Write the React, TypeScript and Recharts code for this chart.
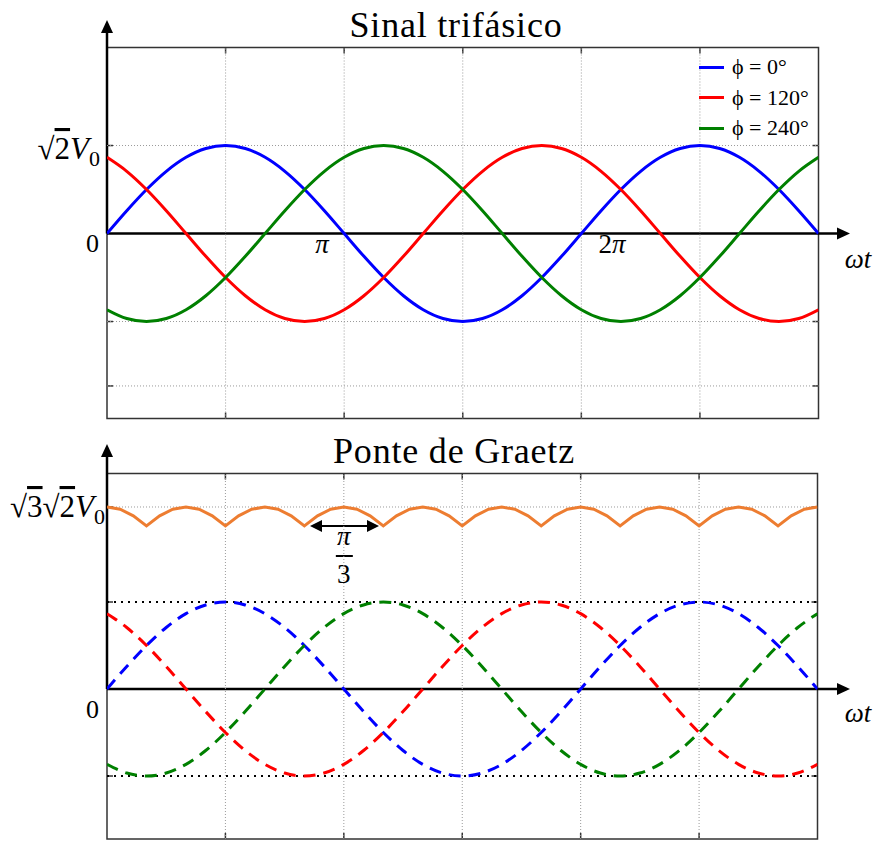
import { LineChart, Line, XAxis, YAxis, ReferenceLine } from 'recharts';

// phase angle in degrees, 0 .. 3π
const angles = [
  0, 15, 30, 45, 60, 75, 90, 105, 120, 135, 150, 165, 180, 195, 210, 225, 240, 255,
  270, 285, 300, 315, 330, 345, 360, 375, 390, 405, 420, 435, 450, 465, 480, 495, 510, 525, 540,
];

// phase voltages in units of √2·V0
const phaseA = [
  0, 0.259, 0.5, 0.707, 0.866, 0.966, 1, 0.966, 0.866, 0.707, 0.5, 0.259, 0,
  -0.259, -0.5, -0.707, -0.866, -0.966, -1, -0.966, -0.866, -0.707, -0.5, -0.259, 0,
  0.259, 0.5, 0.707, 0.866, 0.966, 1, 0.966, 0.866, 0.707, 0.5, 0.259, 0,
];
const phaseB = [
  0.866, 0.707, 0.5, 0.259, 0, -0.259, -0.5, -0.707, -0.866, -0.966, -1, -0.966, -0.866,
  -0.707, -0.5, -0.259, 0, 0.259, 0.5, 0.707, 0.866, 0.966, 1, 0.966, 0.866,
  0.707, 0.5, 0.259, 0, -0.259, -0.5, -0.707, -0.866, -0.966, -1, -0.966, -0.866,
];
const phaseC = [
  -0.866, -0.966, -1, -0.966, -0.866, -0.707, -0.5, -0.259, 0, 0.259, 0.5, 0.707, 0.866,
  0.966, 1, 0.966, 0.866, 0.707, 0.5, 0.259, 0, -0.259, -0.5, -0.707, -0.866,
  -0.966, -1, -0.966, -0.866, -0.707, -0.5, -0.259, 0, 0.259, 0.5, 0.707, 0.866,
];

// rectified bridge output, sampled every 10°
const rippleAngles = [
  0, 10, 20, 30, 40, 50, 60, 70, 80, 90, 100, 110, 120, 130, 140, 150, 160, 170, 180,
  190, 200, 210, 220, 230, 240, 250, 260, 270, 280, 290, 300, 310, 320, 330, 340, 350, 360,
  370, 380, 390, 400, 410, 420, 430, 440, 450, 460, 470, 480, 490, 500, 510, 520, 530, 540,
];
const rippleLevel = [
  2.092, 2.066, 1.99, 1.874, 1.99, 2.066,
  2.092, 2.066, 1.99, 1.874, 1.99, 2.066,
  2.092, 2.066, 1.99, 1.874, 1.99, 2.066,
  2.092, 2.066, 1.99, 1.874, 1.99, 2.066,
  2.092, 2.066, 1.99, 1.874, 1.99, 2.066,
  2.092, 2.066, 1.99, 1.874, 1.99, 2.066,
  2.092, 2.066, 1.99, 1.874, 1.99, 2.066,
  2.092, 2.066, 1.99, 1.874, 1.99, 2.066,
  2.092, 2.066, 1.99, 1.874, 1.99, 2.066,
  2.092,
];

const phaseLabels = ['ϕ = 0°', 'ϕ = 120°', 'ϕ = 240°'];
const gridAngles = [90, 180, 270, 360, 450];
const topGridLevels = [1, -1, -1.732];
const bottomPeakLevel = 2.092;
const bottomDottedLevels = [1, -1];

const phaseRows = angles.map((x, i) => ({ x, a: phaseA[i], b: phaseB[i], c: phaseC[i] }));
const rippleRows = rippleAngles.map((x, i) => ({ x, v: rippleLevel[i] }));

const PHASES = [
  { key: 'a', color: '#0000ff', label: phaseLabels[0] },
  { key: 'b', color: '#ff0000', label: phaseLabels[1] },
  { key: 'c', color: '#008000', label: phaseLabels[2] },
];
const RIPPLE_COLOR = '#ed7d31';
const GRID = '#9a9a9a';
const serif = '"Liberation Serif", "Times New Roman", serif';

// plot boxes in page pixels
const TOP_BOX = { left: 107, top: 47.5, right: 818.5, bottom: 418.5 };
const BOT_BOX = { left: 107, top: 473.5, right: 817.5, bottom: 839 };
const TOP_DOMAIN: [number, number] = [-2.102, 2.114];
const BOT_DOMAIN: [number, number] = [-1.724, 2.477];
const TOP_H = 430;
const BOT_Y = 430;
const BOT_H = 411;
const X_MAX = 540;

type Box = typeof TOP_BOX;
const px = (b: Box, a: number) => b.left + (a / X_MAX) * (b.right - b.left);
const py = (b: Box, d: [number, number], v: number) =>
  b.top + ((d[1] - v) / (d[1] - d[0])) * (b.bottom - b.top);

function PhaseLegend() {
  return (
    <div
      style={{
        position: 'absolute',
        left: 699,
        top: 52,
        fontFamily: serif,
        fontSize: 22,
        lineHeight: '30.5px',
        color: '#000',
      }}
    >
      {PHASES.map(p => (
        <div key={p.key} style={{ display: 'flex', alignItems: 'center', whiteSpace: 'nowrap' }}>
          <span
            style={{ display: 'inline-block', width: 25, height: 3, background: p.color, marginRight: 8 }}
          />
          {p.label}
        </div>
      ))}
    </div>
  );
}

function FrameTicks({ box, domain, levels }: { box: Box; domain: [number, number]; levels: number[] }) {
  const t = 6;
  return (
    <g stroke="#333" strokeWidth={1.5}>
      {gridAngles.map(a => (
        <g key={a}>
          <line x1={px(box, a)} x2={px(box, a)} y1={box.top} y2={box.top + t} />
          <line x1={px(box, a)} x2={px(box, a)} y1={box.bottom} y2={box.bottom - t} />
        </g>
      ))}
      {levels.map(v => (
        <g key={v}>
          <line x1={box.left} x2={box.left + t} y1={py(box, domain, v)} y2={py(box, domain, v)} />
          <line x1={box.right} x2={box.right - t} y1={py(box, domain, v)} y2={py(box, domain, v)} />
        </g>
      ))}
    </g>
  );
}

function Decorations() {
  const z1 = py(TOP_BOX, TOP_DOMAIN, 0);
  const z2 = py(BOT_BOX, BOT_DOMAIN, 0);
  const cuspY = py(BOT_BOX, BOT_DOMAIN, 1.874);
  const a0 = 310;
  const a1 = 379;
  const mid = px(BOT_BOX, 180);
  return (
    <svg width={876} height={841} style={{ position: 'absolute', left: 0, top: 0 }}>
      {/* titles */}
      <text x={456} y={37} textAnchor="middle" fontFamily={serif} fontSize={36} letterSpacing={0.8}>
        Sinal trifásico
      </text>
      <text x={454} y={463} textAnchor="middle" fontFamily={serif} fontSize={36} letterSpacing={0.8}>
        Ponte de Graetz
      </text>

      {/* frames */}
      <rect
        x={TOP_BOX.left}
        y={TOP_BOX.top}
        width={TOP_BOX.right - TOP_BOX.left}
        height={TOP_BOX.bottom - TOP_BOX.top}
        fill="none"
        stroke="#333"
        strokeWidth={1.5}
      />
      <rect
        x={BOT_BOX.left}
        y={BOT_BOX.top}
        width={BOT_BOX.right - BOT_BOX.left}
        height={BOT_BOX.bottom - BOT_BOX.top}
        fill="none"
        stroke="#333"
        strokeWidth={1.5}
      />
      <FrameTicks box={TOP_BOX} domain={TOP_DOMAIN} levels={topGridLevels} />
      <FrameTicks box={BOT_BOX} domain={BOT_DOMAIN} levels={[bottomPeakLevel, ...bottomDottedLevels]} />

      {/* axes with arrows */}
      <g stroke="#000" strokeWidth={2.5}>
        <line x1={107} y1={z1} x2={107} y2={33} />
        <line x1={107} y1={z1} x2={837} y2={z1} />
        <line x1={107} y1={z2} x2={107} y2={457} />
        <line x1={107} y1={z2} x2={837} y2={z2} />
      </g>
      <g fill="#000">
        <polygon points={`107,20 101,33 113,33`} />
        <polygon points={`850,${z1} 837,${z1 - 6} 837,${z1 + 6}`} />
        <polygon points={`107,444 101,457 113,457`} />
        <polygon points={`850,${z2} 837,${z2 - 6} 837,${z2 + 6}`} />
      </g>

      {/* axis labels, top panel */}
      <text x={100} y={159} textAnchor="end" fontFamily={serif} fontSize={31}>
        √<tspan textDecoration="overline">2</tspan>
        <tspan fontStyle="italic">V</tspan>
        <tspan fontSize={22} dy={7}>0</tspan>
      </text>
      <text x={99} y={252} textAnchor="end" fontFamily={serif} fontSize={26}>0</text>
      <text x={322} y={253} textAnchor="middle" fontFamily={serif} fontSize={27} fontStyle="italic">π</text>
      <text x={612} y={253} textAnchor="middle" fontFamily={serif} fontSize={27} fontStyle="italic">
        <tspan fontStyle="normal">2</tspan>π
      </text>
      <text x={858} y={268} textAnchor="middle" fontFamily={serif} fontSize={27} fontStyle="italic">ωt</text>

      {/* axis labels, bottom panel */}
      <text x={105} y={517} textAnchor="end" fontFamily={serif} fontSize={31}>
        √<tspan textDecoration="overline">3</tspan>√<tspan textDecoration="overline">2</tspan>
        <tspan fontStyle="italic">V</tspan>
        <tspan fontSize={22} dy={7}>0</tspan>
      </text>
      <text x={99} y={718} textAnchor="end" fontFamily={serif} fontSize={26}>0</text>
      <text x={858} y={722} textAnchor="middle" fontFamily={serif} fontSize={27} fontStyle="italic">ωt</text>

      {/* ripple period marker */}
      <g stroke="#000" strokeWidth={2}>
        <line x1={a0 + 8} y1={cuspY} x2={a1 - 8} y2={cuspY} />
        <line x1={mid - 8} y1={556} x2={mid + 9} y2={556} />
      </g>
      <g fill="#000">
        <polygon points={`${a0},${cuspY} ${a0 + 12},${cuspY - 6} ${a0 + 12},${cuspY + 6}`} />
        <polygon points={`${a1},${cuspY} ${a1 - 12},${cuspY - 6} ${a1 - 12},${cuspY + 6}`} />
      </g>
      <text x={mid} y={545} textAnchor="middle" fontFamily={serif} fontSize={27} fontStyle="italic">π</text>
      <text x={mid} y={583} textAnchor="middle" fontFamily={serif} fontSize={27}>3</text>
    </svg>
  );
}

export default function App() {
  return (
    <div style={{ position: 'fixed', left: 0, top: 0, width: 876, height: 841, background: '#fff' }}>
      <Decorations />

      <div style={{ position: 'absolute', left: 0, top: 0 }}>
        <LineChart
          width={876}
          height={TOP_H}
          data={phaseRows}
          margin={{
            top: TOP_BOX.top,
            left: TOP_BOX.left,
            right: 876 - TOP_BOX.right,
            bottom: TOP_H - TOP_BOX.bottom,
          }}
        >
          <XAxis type="number" dataKey="x" domain={[0, X_MAX]} allowDataOverflow hide />
          <YAxis type="number" domain={TOP_DOMAIN} allowDataOverflow hide />
          {gridAngles.map(a => (
            <ReferenceLine key={`gx${a}`} x={a} stroke={GRID} strokeDasharray="1 2" />
          ))}
          {topGridLevels.map(v => (
            <ReferenceLine key={`gy${v}`} y={v} stroke={GRID} strokeDasharray="1 2" />
          ))}
          {PHASES.map(p => (
            <Line
              key={p.key}
              dataKey={p.key}
              name={p.label}
              type="monotone"
              stroke={p.color}
              strokeWidth={3}
              dot={false}
              activeDot={false}
              isAnimationActive={false}
            />
          ))}
        </LineChart>
      </div>
      <PhaseLegend />

      <div style={{ position: 'absolute', left: 0, top: BOT_Y }}>
        <LineChart
          width={876}
          height={BOT_H}
          data={phaseRows}
          margin={{
            top: BOT_BOX.top - BOT_Y,
            left: BOT_BOX.left,
            right: 876 - BOT_BOX.right,
            bottom: BOT_Y + BOT_H - BOT_BOX.bottom,
          }}
        >
          <XAxis type="number" dataKey="x" domain={[0, X_MAX]} allowDataOverflow hide />
          <YAxis type="number" domain={BOT_DOMAIN} allowDataOverflow hide />
          {gridAngles.map(a => (
            <ReferenceLine key={`gx${a}`} x={a} stroke={GRID} strokeDasharray="1 2" />
          ))}
          <ReferenceLine y={bottomPeakLevel} stroke={GRID} strokeDasharray="1 2" />
          {bottomDottedLevels.map(v => (
            <ReferenceLine key={`gy${v}`} y={v} stroke="#000" strokeWidth={2} strokeDasharray="2 5" />
          ))}
          {PHASES.map(p => (
            <Line
              key={p.key}
              dataKey={p.key}
              type="monotone"
              stroke={p.color}
              strokeWidth={3}
              strokeDasharray="12 8"
              dot={false}
              activeDot={false}
              isAnimationActive={false}
            />
          ))}
          <Line
            data={rippleRows}
            dataKey="v"
            type="linear"
            stroke={RIPPLE_COLOR}
            strokeWidth={3}
            dot={false}
            activeDot={false}
            isAnimationActive={false}
          />
        </LineChart>
      </div>
    </div>
  );
}
